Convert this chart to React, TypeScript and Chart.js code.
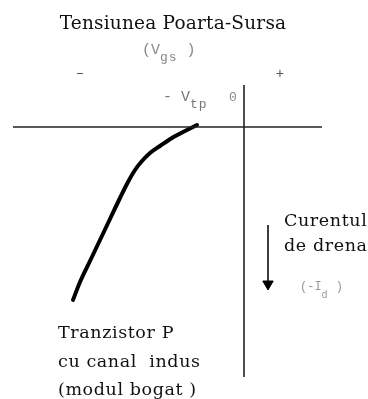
import React, { useEffect, useRef } from "react";
import { Chart, registerables } from "chart.js";

Chart.register(...registerables);

// Vgs on x (origin = 0), drain current on y (negative goes down)
const xRange = [-24.4, 12.4];
const yRange = [-27.2, 12.7];

const hAxisX = [-23.1, 7.8];
const vAxisY = [4.2, -25.0];

// Transfer characteristic (Vgs, Id) for P-channel enhancement MOSFET
const curveVgs = [-4.7, -5.9, -7.2, -8.4, -9.4, -10.2, -10.9, -11.6, -12.4, -13.4, -14.4, -15.4, -16.4, -17.1];
const curveId = [0.2, -0.4, -1.1, -1.9, -2.6, -3.4, -4.3, -5.5, -7.1, -9.2, -11.3, -13.4, -15.5, -17.3];

const arrowX = 2.4;
const arrowY = [-9.8, -15.7];

type Seg = { t: string; sub?: boolean };
const labelSegs: Seg[][] = [
  [{ t: "Tensiunea Poarta-Sursa" }],
  [{ t: "(V" }, { t: "gs", sub: true }, { t: " )" }],
  [{ t: "–" }],
  [{ t: "+" }],
  [{ t: "- V" }, { t: "tp", sub: true }],
  [{ t: "0" }],
  [{ t: "Curentul" }],
  [{ t: "de drena" }],
  [{ t: "(-I" }, { t: "d", sub: true }, { t: " )" }],
  [{ t: "Tranzistor P" }],
  [{ t: "cu canal  indus" }],
  [{ t: "(modul bogat )" }],
];
const labelX = [-7.1, -10.2, -16.4, 3.6, -8.1, -1.1, 4.0, 4.0, 5.6, -18.6, -18.6, -18.6];
const labelY = [9.8, 7.7, 5.4, 5.3, 3.0, 2.9, -9.9, -12.4, -16.0, -21.1, -24.0, -26.8];
const labelAlign = ["center", "left", "center", "center", "left", "center", "left", "left", "left", "left", "left", "left"];
const labelBase = ["alphabetic", "middle", "middle", "middle", "middle", "middle", "alphabetic", "alphabetic", "middle", "alphabetic", "alphabetic", "alphabetic"];
const labelFont = [
  "18.5px 'DejaVu Serif'",
  "15px 'Liberation Mono'",
  "14px 'Liberation Mono'",
  "14px 'Liberation Mono'",
  "15px 'Liberation Mono'",
  "13px 'Liberation Mono'",
  "17.5px 'DejaVu Serif'",
  "17.5px 'DejaVu Serif'",
  "12px 'Liberation Mono'",
  "17.5px 'DejaVu Serif'",
  "17.5px 'DejaVu Serif'",
  "17.5px 'DejaVu Serif'",
];
const labelSpacing = ["0.2px", "0px", "0px", "0px", "0px", "0px", "0.6px", "0.6px", "0px", "0.6px", "0.6px", "0.6px"];
const labelSubFont = ["", "13px 'Liberation Mono'", "", "", "13px 'Liberation Mono'", "", "", "", "10px 'Liberation Mono'", "", "", ""];
const labelSubShift = [0, 8, 0, 0, 8, 0, 0, 0, 8, 0, 0, 0];
const labelColor = ["#111", "#888", "#555", "#555", "#777", "#888", "#111", "#111", "#999", "#111", "#111", "#111"];

const labelsPlugin = {
  id: "labels",
  afterDraw(chart: any) {
    const ctx = chart.ctx;
    const xs = chart.scales.x;
    const ys = chart.scales.y;
    ctx.save();
    labelSegs.forEach((segs, i) => {
      const px = xs.getPixelForValue(labelX[i]);
      const py = ys.getPixelForValue(labelY[i]);
      ctx.textBaseline = labelBase[i];
      const widths = segs.map((s) => {
        ctx.font = s.sub ? labelSubFont[i] : labelFont[i];
        ctx.letterSpacing = s.sub ? "1px" : labelSpacing[i];
        return ctx.measureText(s.t).width;
      });
      const total = widths.reduce((a, b) => a + b, 0);
      let cx = labelAlign[i] === "center" ? px - total / 2 : px;
      ctx.fillStyle = labelColor[i];
      ctx.textAlign = "left";
      segs.forEach((s, k) => {
        ctx.font = s.sub ? labelSubFont[i] : labelFont[i];
        ctx.letterSpacing = s.sub ? "1px" : labelSpacing[i];
        ctx.fillText(s.t, cx, s.sub ? py + labelSubShift[i] : py);
        cx += widths[k];
      });
    });
    ctx.restore();
  },
};

export default function App() {
  const ref = useRef<HTMLCanvasElement>(null);
  useEffect(() => {
    if (!ref.current) return;
    const chart = new Chart(ref.current, {
      type: "scatter",
      data: {
        datasets: [
          {
            data: hAxisX.map((x) => ({ x, y: 0 })),
            showLine: true,
            borderColor: "#222",
            borderWidth: 1.6,
            pointRadius: 0,
          },
          {
            data: vAxisY.map((y) => ({ x: 0, y })),
            showLine: true,
            borderColor: "#222",
            borderWidth: 1.6,
            pointRadius: 0,
          },
          {
            data: curveVgs.map((x, i) => ({ x, y: curveId[i] })),
            showLine: true,
            borderColor: "#000",
            borderWidth: 4,
            pointRadius: 0,
            cubicInterpolationMode: "monotone",
            borderCapStyle: "round",
            borderJoinStyle: "round",
          },
          {
            data: arrowY.map((y) => ({ x: arrowX, y })),
            showLine: true,
            borderColor: "#111",
            borderWidth: 1.6,
            pointRadius: [0, 6],
            pointStyle: "triangle",
            rotation: 180,
            pointBackgroundColor: "#000",
            pointBorderColor: "#000",
            pointBorderWidth: 1,
          },
        ],
      } as any,
      options: {
        animation: false,
        responsive: false,
        maintainAspectRatio: false,
        layout: { padding: 0, autoPadding: false },
        events: [],
        plugins: { legend: { display: false }, tooltip: { enabled: false }, title: { display: false } },
        scales: {
          x: { type: "linear", min: xRange[0], max: xRange[1], display: false },
          y: { type: "linear", min: yRange[0], max: yRange[1], display: false },
        },
      },
      plugins: [labelsPlugin],
    });
    return () => chart.destroy();
  }, []);
  return (
    <div style={{ position: "fixed", left: 0, top: 0, width: 368, height: 399, background: "#fff" }}>
      <canvas ref={ref} width={368} height={399} style={{ display: "block", width: 368, height: 399 }} />
    </div>
  );
}
